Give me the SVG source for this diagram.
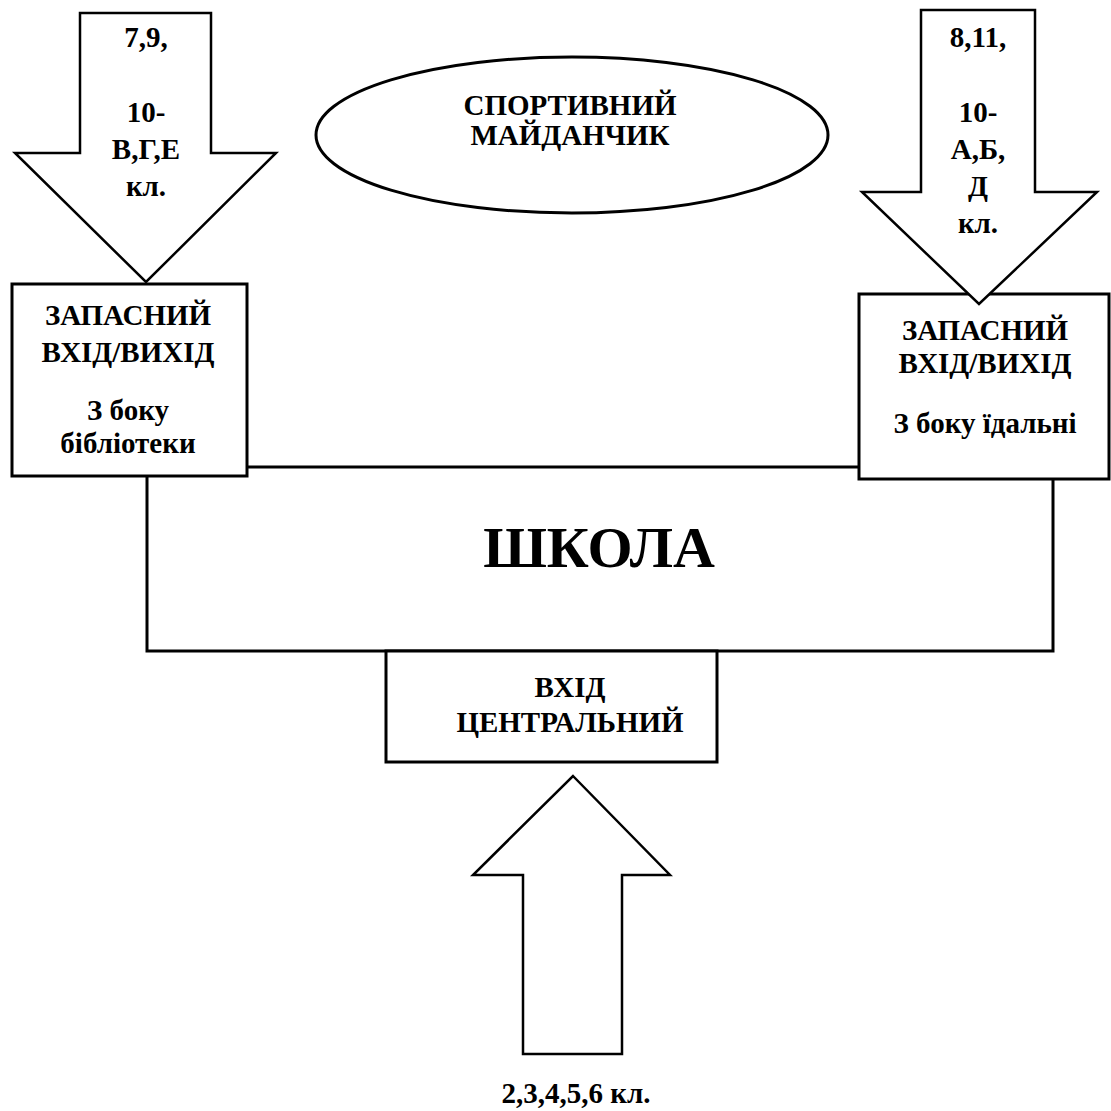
<svg xmlns="http://www.w3.org/2000/svg" width="1111" height="1111" viewBox="0 0 1111 1111">
<style>
.box{fill:#fff;stroke:#000;stroke-width:3}
.arr{fill:#fff;stroke:#000;stroke-width:2.5;stroke-linejoin:miter}
.t{font-weight:bold;font-size:29px;text-anchor:middle;fill:#000}
.big{font-size:58px}
</style>
<rect width="1111" height="1111" fill="#fff"/>
<g font-family="Liberation Serif, DejaVu Serif, serif">
<g id="school">
<rect class="box" x="147" y="467" width="906" height="184"/>
<text class="t big" x="599" y="567">ШКОЛА</text>
</g>
<g id="sport">
<ellipse class="box" cx="572" cy="135" rx="256" ry="78" stroke-width="2.5"/>
<text class="t" x="570" y="115">СПОРТИВНИЙ</text>
<text class="t" x="570" y="145">МАЙДАНЧИК</text>
</g>
<g id="left-exit">
<rect class="box" x="12" y="284" width="235" height="192"/>
<text class="t" x="128" y="325">ЗАПАСНИЙ</text>
<text class="t" x="128" y="362">ВХІД/ВИХІД</text>
<text class="t" x="128" y="420">З боку</text>
<text class="t" x="128" y="453">бібліотеки</text>
</g>
<g id="right-exit">
<rect class="box" x="859" y="294" width="250" height="185"/>
<text class="t" x="985" y="340">ЗАПАСНИЙ</text>
<text class="t" x="985" y="373">ВХІД/ВИХІД</text>
<text class="t" x="985" y="433">З боку їдальні</text>
</g>
<g id="central">
<rect class="box" x="386" y="651" width="331" height="111"/>
<text class="t" x="570" y="697">ВХІД</text>
<text class="t" x="570" y="732">ЦЕНТРАЛЬНИЙ</text>
</g>
<g id="connectors">
<g id="arrow-left">
<polygon class="arr" points="80,13 211,13 211,153 276,153 146,282 15,153 80,153"/>
<text class="t" x="146" y="47">7,9,</text>
<text class="t" x="146" y="122">10-</text>
<text class="t" x="146" y="159">В,Г,Е</text>
<text class="t" x="146" y="196">кл.</text>
</g>
<g id="arrow-right">
<polygon class="arr" points="921,10 1035,10 1035,192 1097,192 979,304 862,192 921,192"/>
<text class="t" x="978" y="47">8,11,</text>
<text class="t" x="978" y="122">10-</text>
<text class="t" x="978" y="159">А,Б,</text>
<text class="t" x="978" y="196">Д</text>
<text class="t" x="978" y="233">кл.</text>
</g>
<g id="arrow-bottom">
<polygon class="arr" points="573,776 670,875 622,875 622,1054 523,1054 523,875 473,875"/>
</g>
</g>
<text class="t" x="576" y="1103">2,3,4,5,6 кл.</text>
</g>
</svg>
